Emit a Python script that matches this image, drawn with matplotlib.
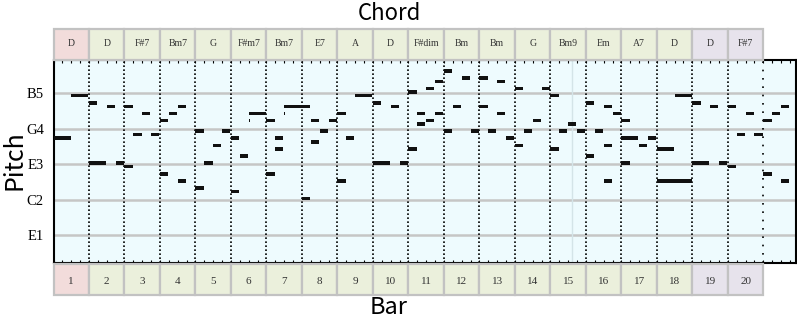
import matplotlib
matplotlib.use("Agg")
import matplotlib.pyplot as plt
from matplotlib.patches import Rectangle


CHORDS = ["D", "D", "F#7", "Bm7", "G", "F#m7", "Bm7", "E7", "A", "D",
          "F#dim", "Bm", "Bm", "G", "Bm9", "Em", "A7", "D", "D", "F#7"]
BAR_NUMBERS = list(range(1, 21))
SECTIONS = ["intro"] + ["body"] * 17 + ["outro"] * 2

PITCH_TICKS = [0, 10, 20, 30, 40]
PITCH_LABELS = ["E1", "C2", "E3", "G4", "B5"]

# notes: start (bars), length (bars), pitch step
NOTE_START = [
    0.0, 0.5,
    1.0, 1.5, 1.0, 1.75,
    2.0, 2.25, 2.5, 2.75, 2.0,
    3.0, 3.0, 3.25, 3.5, 3.5,
    4.0, 4.25, 4.5, 4.75, 4.0,
    5.0, 5.0, 5.25, 5.5, 5.5,
    6.0, 6.0, 6.25, 6.25, 6.5, 6.5,
    7.0, 7.25, 7.25, 7.5, 7.75,
    8.0, 8.0, 8.25, 8.5,
    9.0, 9.5, 9.0, 9.75,
    10.0, 10.0, 10.25, 10.25, 10.5, 10.5, 10.75, 10.75,
    11.0, 11.0, 11.25, 11.5, 11.75,
    12.0, 12.0, 12.25, 12.5, 12.5, 12.75,
    13.0, 13.0, 13.25, 13.5, 13.75,
    14.0, 14.0, 14.25, 14.5, 14.75,
    15.0, 15.0, 15.25, 15.5, 15.5, 15.5, 15.75,
    16.0, 16.0, 16.0, 16.5, 16.75,
    17.0, 17.0, 17.5,
    18.0, 18.5, 18.0, 18.75,
    19.0, 19.0, 19.25, 19.5, 19.75,
    20.0, 20.0, 20.25, 20.5, 20.5,
]
NOTE_LEN = [
    0.5, 0.5,
    0.25, 0.25, 0.5, 0.25,
    0.25, 0.25, 0.25, 0.25, 0.25,
    0.25, 0.25, 0.25, 0.25, 0.25,
    0.25, 0.25, 0.25, 0.25, 0.25,
    0.25, 0.25, 0.25, 0.5, 0.02,
    0.25, 0.25, 0.25, 0.25, 0.75, 0.02,
    0.25, 0.25, 0.25, 0.25, 0.25,
    0.25, 0.25, 0.25, 0.5,
    0.25, 0.25, 0.5, 0.25,
    0.25, 0.25, 0.25, 0.25, 0.25, 0.25, 0.25, 0.25,
    0.25, 0.25, 0.25, 0.25, 0.25,
    0.25, 0.25, 0.25, 0.25, 0.25, 0.25,
    0.25, 0.25, 0.25, 0.25, 0.25,
    0.25, 0.25, 0.25, 0.25, 0.25,
    0.25, 0.25, 0.25, 0.25, 0.25, 0.25, 0.25,
    0.25, 0.5, 0.25, 0.25, 0.25,
    0.5, 1.0, 0.5,
    0.25, 0.25, 0.5, 0.25,
    0.25, 0.25, 0.25, 0.25, 0.25,
    0.25, 0.25, 0.25, 0.25, 0.25,
]
NOTE_PITCH = [
    27, 39,
    37, 36, 20, 20,
    36, 28, 34, 28, 19,
    32, 17, 34, 36, 15,
    29, 20, 25, 29, 13,
    27, 12, 22, 34, 32,
    32, 17, 27, 24, 36, 34,
    10, 32, 26, 29, 32,
    34, 15, 27, 39,
    37, 36, 20, 20,
    40, 24, 34, 31, 41, 32, 43, 34,
    46, 29, 36, 44, 29,
    44, 36, 29, 43, 34, 27,
    41, 25, 29, 32, 41,
    39, 24, 29, 31, 29,
    37, 22, 29, 36, 25, 15, 34,
    32, 27, 20, 25, 27,
    24, 15, 39,
    37, 36, 20, 20,
    36, 19, 28, 34, 28,
    32, 17, 34, 36, 15,
]

SECTION_COLORS = {"intro": "#f2dcdb", "body": "#ebf0dc", "outro": "#e7e3ec"}

W, H = 797, 321
X_MAX = 20.92


def px_axes(fig, left, top, right, bottom):
    return fig.add_axes([left / W, 1 - bottom / H, (right - left) / W, (bottom - top) / H])


def draw_strip(ax, labels, text_y, size):
    ax.set_xlim(0, X_MAX)
    ax.set_ylim(0, 1)
    ax.axis("off")
    for i, (label, section) in enumerate(zip(labels, SECTIONS)):
        ax.add_patch(Rectangle((i, 0), 1, 1, facecolor=SECTION_COLORS[section],
                               edgecolor="#c2c2c2", linewidth=1.6, clip_on=False))
        ax.text(i + 0.5, text_y, str(label), ha="center", va="center",
                fontsize=size, family="Liberation Serif", color="#333333")


def main() -> None:
    fig = plt.figure(figsize=(W / 100, H / 100), dpi=100)

    ax = px_axes(fig, 53.5, 60, 796, 263)
    ax.set_facecolor("#eefbfe")
    ax.set_xlim(0, X_MAX)
    ax.set_ylim(-7.8, 49.4)

    for p in PITCH_TICKS:
        ax.axhline(p, color="#c6c6c6", linewidth=1.8, zorder=1)
    for b in range(1, 20):
        ax.axvline(b, color="black", linewidth=1.2, linestyle=(0, (1, 1.4)), zorder=2)
    ax.axvline(20, color="black", linewidth=1.2, linestyle=(0, (1, 4)), zorder=2)
    ax.axvline(14.6, color="#d4e4e8", linewidth=1.0, zorder=1)

    ax.bar(NOTE_START, 1.0, width=[max(l - 0.02, 0.03) for l in NOTE_LEN],
           bottom=[p - 0.15 for p in NOTE_PITCH], align="edge", color="#111111", zorder=3)

    ax.set_yticks(PITCH_TICKS)
    ax.set_yticklabels(PITCH_LABELS, family="Liberation Serif", fontsize=10.5)
    ax.tick_params(axis="y", length=0, pad=7)
    ax.set_xticks([q / 4 for q in range(0, 84)])
    ax.set_xticklabels([])
    ax.tick_params(axis="x", direction="in", length=2, top=True, bottom=True, width=0.8)
    for spine in ax.spines.values():
        spine.set_linewidth(1.5)
        spine.set_color("black")

    top = px_axes(fig, 53.5, 29, 796, 60)
    draw_strip(top, CHORDS, 0.52, 7)
    bottom = px_axes(fig, 53.5, 264, 796, 295)
    draw_strip(bottom, BAR_NUMBERS, 0.45, 8)

    font = ["Noto Sans CJK SC", "DejaVu Sans"]
    fig.text(389 / W, 1 - 13 / H, "Chord", ha="center", va="center", fontsize=16, family=font)
    fig.text(389 / W, 1 - 308 / H, "Bar", ha="center", va="center", fontsize=17, family=font)
    fig.text(14 / W, 1 - 160 / H, "Pitch", ha="center", va="center", fontsize=18,
             rotation=90, family=font)

    fig.savefig("out.png", dpi=100)
    plt.close(fig)


if __name__ == "__main__":
    main()
